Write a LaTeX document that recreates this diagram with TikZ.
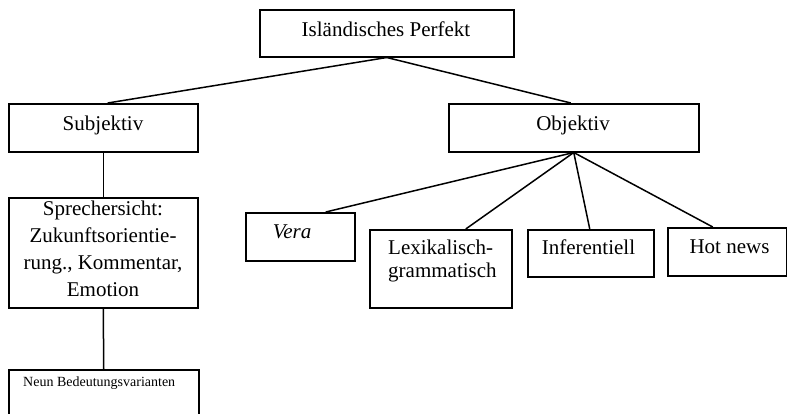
\documentclass[tikz,border=0pt]{standalone}
\usepackage{fontspec}
\setmainfont{Liberation Serif}
\begin{document}
\begin{tikzpicture}[x=1pt,y=-1pt,
  box/.style={draw=black,line width=1.5pt,rectangle,inner sep=0pt,anchor=north west},
  lbl/.style={inner sep=0pt,anchor=base,font=\fontsize{21}{26}\selectfont},
  conn/.style={draw=black,line width=1.5pt}]
\useasboundingbox (0,0) rectangle (787,413);
\clip (0,0) rectangle (787,413);
% boxes
\node[box,minimum width=254pt,minimum height=47pt] (top) at (259,9) {};
\node[box,minimum width=189pt,minimum height=48pt] (subj) at (8,103) {};
\node[box,minimum width=250pt,minimum height=48pt] (obj) at (448,103) {};
\node[box,minimum width=189pt,minimum height=110pt] (spr) at (8,197) {};
\node[box,minimum width=190pt,minimum height=60pt] (neun) at (8,369) {};
\node[box,minimum width=109pt,minimum height=48pt] (vera) at (245,212) {};
\node[box,minimum width=142pt,minimum height=78pt] (lex) at (369,229) {};
\node[box,minimum width=126pt,minimum height=47pt] (inf) at (527,229) {};
\node[box,minimum width=119pt,minimum height=48pt] (hot) at (667,227) {};
% texts
\node[lbl] (ttop) at (386,36) {Isländisches Perfekt};
\node[lbl] (tsubj) at (103,130) {Subjektiv};
\node[lbl] (tobj) at (573,130) {Objektiv};
\node[lbl] (tspr1) at (103,215) {Sprechersicht:};
\node[lbl] (tspr2) at (103,242) {Zukunftsorientie-};
\node[lbl] (tspr3) at (103,269) {rung., Kommentar,};
\node[lbl] (tspr4) at (103,296) {Emotion};
\node[lbl,font=\fontsize{14}{17}\selectfont,anchor=base west] (tneun) at (23,386) {Neun Bedeutungsvarianten};
\node[lbl] (tvera) at (292,238) {\textit{Vera}};
\node[lbl,anchor=base west] (tlex1) at (388,254) {Lexikalisch-};
\node[lbl,anchor=base west] (tlex2) at (388,277) {grammatisch};
\node[lbl] (tinf) at (588.5,254) {Inferentiell};
\node[lbl] (thot) at (729.5,253) {Hot news};
% connectors
\draw[conn] (top.south) -- ([xshift=4.5pt]subj.north);
\draw[conn] (top.south) -- ([xshift=-3pt]obj.north);
\draw[conn] (subj.south) -- (spr.north);
\draw[conn] (spr.south) -- (neun.north);
\draw[conn] (obj.south) -- ([xshift=25.5pt]vera.north);
\draw[conn] (obj.south) -- ([xshift=25pt]lex.north);
\draw[conn] (obj.south) -- ([xshift=-1pt]inf.north);
\draw[conn] (obj.south) -- ([xshift=-14.5pt]hot.north);
\end{tikzpicture}
\end{document}
